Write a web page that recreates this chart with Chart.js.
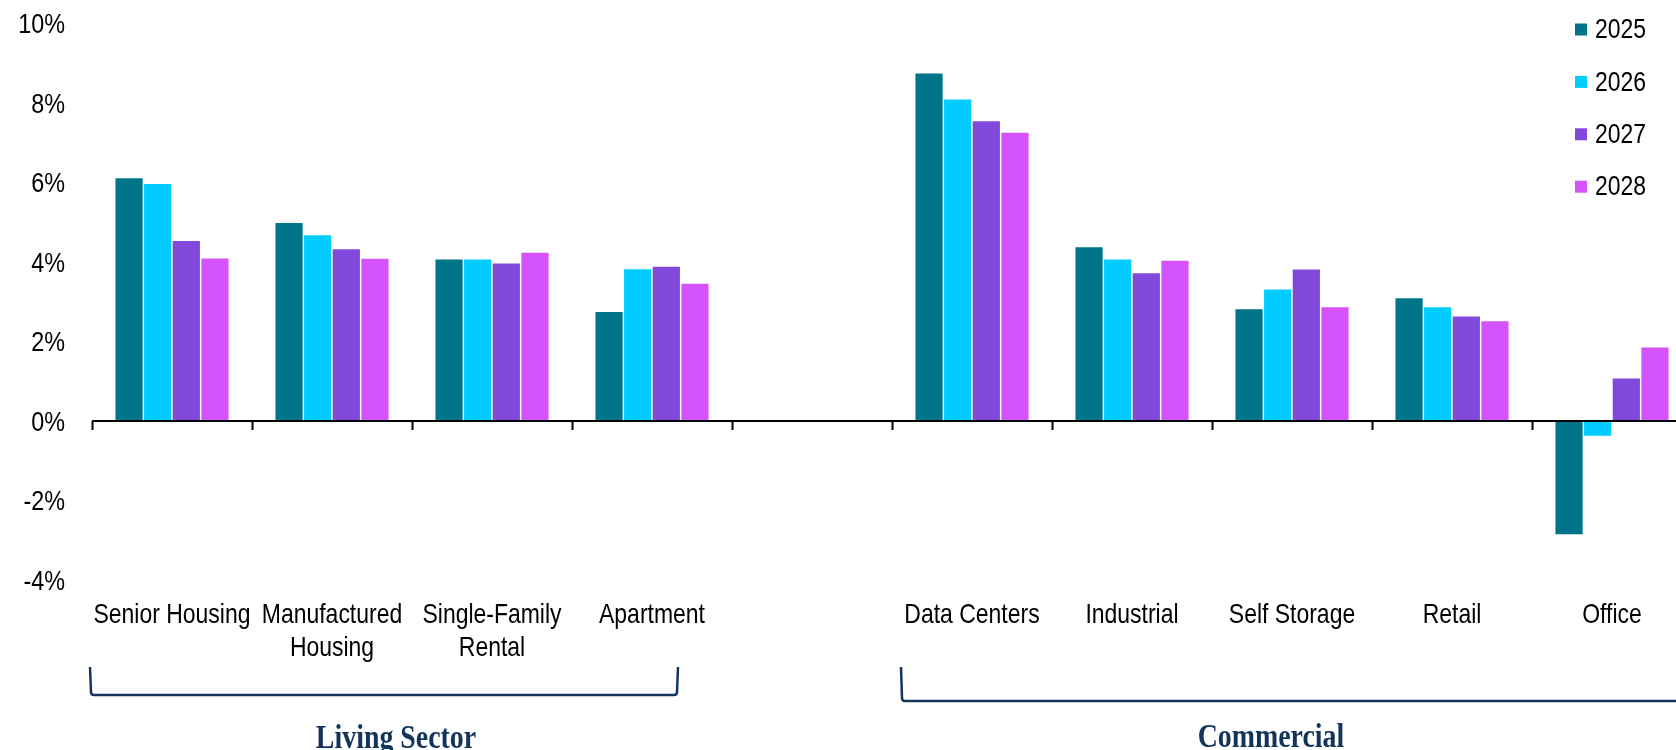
<!DOCTYPE html>
<html><head><meta charset="utf-8">
<script src="https://cdn.jsdelivr.net/npm/chart.js@4.4.1/dist/chart.umd.min.js"></script>
<style>
html,body{margin:0;padding:0;background:#fff;overflow:hidden;width:1676px;height:750px;}
#wrap{position:absolute;left:0;top:0;width:1700px;height:750px;}
</style></head><body>
<div id="wrap"><canvas id="c" width="1700" height="750"></canvas></div>
<script>
const categories = [['Senior Housing'], ['Manufactured', 'Housing'], ['Single-Family', 'Rental'], ['Apartment'], '', ['Data Centers'], ['Industrial'], ['Self Storage'], ['Retail'], ['Office']];
const seriesLabels = ['2025', '2026', '2027', '2028'];
const values2025 = [6.11, 4.98, 4.06, 2.74, null, 8.74, 4.37, 2.81, 3.09, -2.85];
const values2026 = [5.96, 4.67, 4.06, 3.82, null, 8.09, 4.06, 3.31, 2.86, -0.37];
const values2027 = [4.53, 4.32, 3.96, 3.88, null, 7.54, 3.72, 3.81, 2.63, 1.07];
const values2028 = [4.09, 4.08, 4.23, 3.45, null, 7.25, 4.03, 2.86, 2.51, 1.85];
const seriesColors = ['#00758A', '#00CCFF', '#8247DB', '#D553FA'];
const yMin = -4, yMax = 10, yStep = 2;
const groupLabels = ['Living Sector', 'Commercial'];

const SANS = '"Liberation Sans", Arial, sans-serif';
const SERIF = '"Liberation Serif", "Times New Roman", serif';
const NAVY = '#15345C';
const SQUEEZE = 0.82; // narrow (condensed) lettering as in the reference

const seriesValues = [values2025, values2026, values2027, values2028];

// condensed text: draw and measure every text horizontally squeezed around its anchor
const canvas = document.getElementById('c');
const ctx0 = canvas.getContext('2d');
const P = CanvasRenderingContext2D.prototype;
ctx0.fillText = function (t, x, y, mw) {
  this.save();
  this.translate(x, y);
  this.scale(SQUEEZE, 1);
  if (mw !== undefined) P.fillText.call(this, t, 0, 0, mw / SQUEEZE);
  else P.fillText.call(this, t, 0, 0);
  this.restore();
};
ctx0.measureText = function (t) {
  const m = P.measureText.call(this, t);
  return {
    width: m.width * SQUEEZE,
    actualBoundingBoxAscent: m.actualBoundingBoxAscent,
    actualBoundingBoxDescent: m.actualBoundingBoxDescent,
    actualBoundingBoxLeft: m.actualBoundingBoxLeft * SQUEEZE,
    actualBoundingBoxRight: m.actualBoundingBoxRight * SQUEEZE,
    fontBoundingBoxAscent: m.fontBoundingBoxAscent,
    fontBoundingBoxDescent: m.fontBoundingBoxDescent
  };
};

const decor = {
  id: 'decor',
  afterDatasetsDraw(chart) {
    const ctx = chart.ctx, x = chart.scales.x, y = chart.scales.y, ca = chart.chartArea;
    const y0 = y.getPixelForValue(0);
    const half = (x.getPixelForValue(1) - x.getPixelForValue(0)) / 2;
    ctx.save();
    ctx.strokeStyle = '#000';
    ctx.lineWidth = 2;
    ctx.beginPath();
    ctx.moveTo(ca.left, y0); ctx.lineTo(ca.right, y0);
    for (let i = 0; i <= categories.length; i++) {
      const px = Math.round(x.getPixelForValue(i) - half) + 0.5;
      ctx.moveTo(px, y0); ctx.lineTo(px, y0 + 9);
    }
    ctx.stroke();
    ctx.restore();
  },
  afterDraw(chart) {
    const ctx = chart.ctx, x = chart.scales.x, ca = chart.chartArea;
    const half = (x.getPixelForValue(1) - x.getPixelForValue(0)) / 2;
    // legend
    ctx.save();
    ctx.font = '28px ' + SANS;
    ctx.textBaseline = 'middle';
    ctx.textAlign = 'left';
    chart.data.datasets.forEach((ds, i) => {
      const ly = ca.top + 6 + i * 52.4;
      const lx = ca.right - 117;
      ctx.fillStyle = ds.backgroundColor;
      ctx.fillRect(lx, ly - 6, 12, 12);
      ctx.fillStyle = '#000';
      ctx.fillText(ds.label, lx + 20, ly + 1);
    });
    ctx.restore();
    // group brackets
    ctx.save();
    ctx.strokeStyle = NAVY;
    ctx.lineWidth = 2.5;
    ctx.lineJoin = 'round';
    const l1 = x.getPixelForValue(0) - half - 2, r1 = x.getPixelForValue(3) + 25;
    ctx.beginPath();
    ctx.moveTo(l1, 667); ctx.lineTo(l1 + 1, 692); ctx.quadraticCurveTo(l1 + 1, 695, l1 + 4, 695);
    ctx.lineTo(r1 - 3, 695); ctx.quadraticCurveTo(r1, 695, r1, 692); ctx.lineTo(r1 + 1, 667);
    ctx.stroke();
    const l2 = x.getPixelForValue(5) - half + 9;
    ctx.beginPath();
    ctx.moveTo(l2, 667); ctx.lineTo(l2 + 1, 698); ctx.quadraticCurveTo(l2 + 1, 701, l2 + 4, 701);
    ctx.lineTo(ca.right + 20, 701);
    ctx.stroke();
    ctx.fillStyle = NAVY;
    ctx.font = 'bold 34px ' + SERIF;
    ctx.textAlign = 'center';
    ctx.textBaseline = 'alphabetic';
    ctx.fillText(groupLabels[0], 396, 748);
    ctx.fillText(groupLabels[1], 1271, 747);
    ctx.restore();
  }
};

new Chart(canvas, {
  type: 'bar',
  data: {
    labels: categories,
    datasets: seriesLabels.map((lab, i) => ({
      label: lab,
      data: seriesValues[i],
      backgroundColor: seriesColors[i],
      borderWidth: 0,
      categoryPercentage: 0.716,
      barPercentage: 0.95
    }))
  },
  options: {
    responsive: false,
    animation: false,
    layout: { padding: { top: 23.5, right: 8, left: 0, bottom: 0 } },
    plugins: { legend: { display: false }, tooltip: { enabled: false } },
    scales: {
      x: {
        grid: { display: false, drawTicks: false },
        border: { display: false },
        ticks: {
          color: '#000',
          font: { family: SANS, size: 28, lineHeight: 1.18 },
          padding: 19,
          maxRotation: 0,
          autoSkip: false
        },
        afterFit(s) { s.height = 170; }
      },
      y: {
        min: yMin, max: yMax,
        grid: { display: false, drawTicks: true, tickLength: 27 },
        border: { display: false },
        ticks: {
          stepSize: yStep,
          color: '#000',
          font: { family: SANS, size: 28.5, lineHeight: 1 },
          padding: 0,
          labelOffset: 2,
          callback: v => v + '%'
        },
        afterFit(s) { s.width = 92; }
      }
    }
  },
  plugins: [decor]
});
</script>
</body></html>
